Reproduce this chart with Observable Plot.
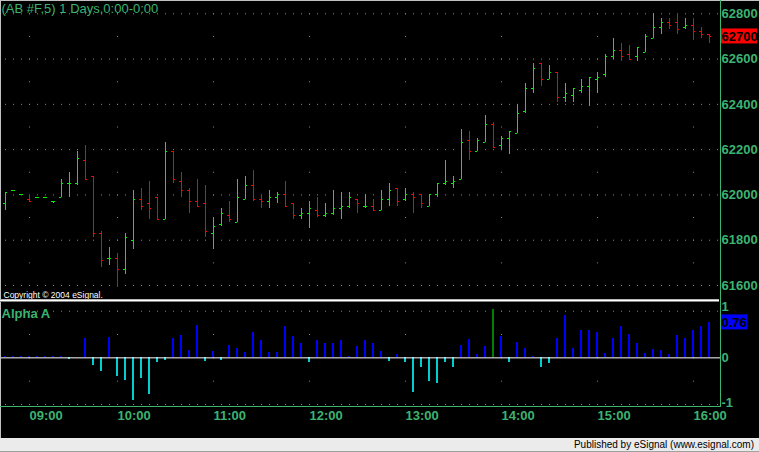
<!DOCTYPE html>
<html><head><meta charset="utf-8">
<script src="https://cdn.jsdelivr.net/npm/d3@7"></script>
<script src="https://cdn.jsdelivr.net/npm/@observablehq/plot@0.6"></script>
<style>
html,body{margin:0;padding:0;background:#000;}
#chart{position:relative;width:759px;height:452px;background:#000;overflow:hidden;font-family:"Liberation Sans",Arial,sans-serif;}
#chart svg{position:absolute;left:0;}
.ln{position:absolute;}
</style></head><body><div id="chart"></div>
<script>
// ---- data ----
const titleText = "(AB #F,5) 1 Days,0:00-0:00";
const copyrightText = "Copyright \u00a9 2004 eSignal.";
const studyName = "Alpha A";
const footerText = "Published by eSignal (www.esignal.com)";

const tickIndex = [3, 14, 26, 38, 50, 62, 74, 86];
const tickLabels = ["09:00", "10:00", "11:00", "12:00", "13:00", "14:00", "15:00", "16:00"];
const priceTicks = [61600, 61800, 62000, 62200, 62400, 62600, 62800];
const alphaTicks = [-1, 0, 1];

const barOpen = [61960,62020,62000,61980,61990,61990,61970,61990,62050,62050,62150,62080,61830,61720,61720,61670,61800,61980,61960,61990,61890,62190,62060,62020,61970,61960,61830,61870,61910,61880,61980,62040,61980,61970,61990,62000,61960,61910,61920,61930,61910,61920,61940,61950,61980,61950,61950,61930,61980,62030,61980,62000,62000,61950,62000,62050,62050,62070,62240,62190,62230,62310,62220,62250,62270,62370,62470,62580,62510,62540,62430,62440,62460,62480,62510,62530,62610,62640,62620,62610,62630,62690,62740,62760,62760,62740,62750,62720,62710];
const barHigh = [62010,62020,62000,62000,61990,61990,61970,62070,62100,62190,62220,62080,61840,61770,61740,61830,62020,62030,62060,61990,62230,62190,62100,62030,62070,62040,61900,61940,61970,62070,62080,62110,62000,62020,62010,62060,61960,61940,61970,61990,61960,62020,62010,62010,61980,62000,61980,62020,62050,62030,62030,62010,62000,62000,62050,62150,62080,62290,62280,62250,62350,62320,62260,62280,62400,62490,62580,62580,62570,62540,62490,62470,62510,62520,62540,62620,62690,62670,62660,62650,62710,62800,62780,62780,62800,62780,62780,62740,62710];
const barLow = [61930,62020,62000,61970,61990,61990,61960,61990,61990,62040,62070,61810,61680,61690,61590,61650,61760,61930,61890,61890,61890,62050,61990,61920,61950,61810,61760,61860,61880,61880,61980,61970,61940,61940,61960,61950,61890,61890,61850,61900,61900,61910,61890,61940,61920,61940,61930,61930,61950,61950,61970,61920,61940,61950,61990,62040,62030,62070,62150,62190,62230,62210,62200,62180,62270,62360,62450,62480,62510,62410,62410,62410,62450,62390,62450,62520,62600,62590,62600,62590,62630,62690,62710,62730,62710,62730,62680,62690,62670];
const barClose = [62010,62020,62000,61970,61990,61990,61970,62050,62050,62160,62070,61830,61710,61720,61670,61810,61980,61950,61940,61890,62190,62070,62020,61970,61950,61840,61860,61920,61890,61990,62040,61980,61970,61990,62000,61950,61910,61920,61940,61910,61920,61940,61950,61990,61960,61950,61930,61980,62020,61970,62000,61990,61960,62000,62050,62060,62060,62230,62190,62240,62310,62210,62250,62280,62360,62470,62560,62510,62540,62430,62450,62470,62480,62520,62520,62610,62640,62610,62600,62650,62700,62740,62760,62750,62730,62750,62720,62710,62700];
const alphaValues = [0.02,0.02,0.02,0.02,0.02,0.02,0.02,0.02,-0.03,0,0.41,-0.16,-0.29,0.43,-0.41,-0.48,-0.92,-0.44,-0.78,-0.10,-0.06,0.42,0.48,0.16,0.69,-0.07,0.13,-0.06,0.26,0.20,0.11,0.54,0.38,0.11,0.11,0.67,0.45,0.30,-0.11,0.37,0.30,0.30,0.38,0.03,0.24,0.37,0.30,0.13,-0.07,0.07,-0.09,-0.75,-0.20,-0.50,-0.56,-0.09,-0.20,0.26,0.39,0.07,0.24,1.03,0.45,-0.09,0.33,0.20,0.03,-0.20,-0.13,0.41,0.90,0.20,0.58,0.58,0.54,0.09,0.41,0.67,0.50,0.30,0.09,0.18,0.16,0.07,0.48,0.41,0.58,0.67,0.76];

// ---- build ----
const W = 759;
const GREEN = "#3cb371";
const GRID = "#8a8a8a";
const FONT = "'Liberation Sans', Arial, sans-serif";

const bars = barOpen.map((o, i) => ({i, open: o, high: barHigh[i], low: barLow[i], close: barClose[i]}));
const alpha = alphaValues.map((v, i) => ({i, v}));
const priceColor = d => d.close >= d.open ? "#00f000" : "#ff0000";
const alphaColor = d => d.v >= 1 ? "#008000" : d.v >= 0 ? "#0000ff" : "#00ced1";

const xScale = {type: "linear", domain: [0, bars.length - 1], range: [5, 709], axis: null};
const yPriceRange = [285, 13.3];
const yAlphaRange = [104, 10.7];
const per100 = (yPriceRange[0] - yPriceRange[1]) / ((priceTicks[priceTicks.length - 1] - priceTicks[0]) / 100);
const perHalf = (yAlphaRange[0] - yAlphaRange[1]) / 4;
const axisText = {frameAnchor: "right", textAnchor: "start", dx: 1, fill: GREEN, fontSize: 13, fontWeight: "bold"};

const priceChart = Plot.plot({
  width: W, height: 299,
  marginLeft: 1, marginRight: 39, marginTop: 0, marginBottom: 0,
  x: xScale,
  y: {domain: [priceTicks[0], priceTicks[priceTicks.length - 1]], range: yPriceRange, axis: null},
  style: {background: "transparent", fontFamily: FONT, overflow: "visible"},
  marks: [
    Plot.ruleY(priceTicks, {stroke: GRID, strokeDasharray: "1,7", strokeDashoffset: 4}),
    Plot.ruleX(tickIndex, {y1: priceTicks[priceTicks.length - 1], y2: priceTicks[0], stroke: GRID, strokeDasharray: `1,${per100 - 1}`}),
    Plot.ruleX(bars, {x: "i", y1: "low", y2: "high", stroke: priceColor, shapeRendering: "crispEdges"}),
    Plot.ruleY(bars, {x1: d => d.i - 0.25, x2: "i", y: "open", stroke: priceColor, shapeRendering: "crispEdges"}),
    Plot.ruleY(bars, {x1: "i", x2: d => d.i + 0.25, y: "close", stroke: priceColor, shapeRendering: "crispEdges"}),
    Plot.text(priceTicks, {y: d => d, text: d => String(d), ...axisText}),
    Plot.text([titleText], {frameAnchor: "top-left", lineAnchor: "top", dy: 3, fill: GREEN, fontSize: 13}),
    Plot.text([copyrightText], {frameAnchor: "bottom-left", lineAnchor: "bottom", dx: 2, dy: -2, fill: "white", fontSize: 8.5})
  ]
});

const alphaChart = Plot.plot({
  width: W, height: 138,
  marginLeft: 1, marginRight: 39, marginTop: 0, marginBottom: 32,
  x: xScale,
  y: {domain: [alphaTicks[0], alphaTicks[alphaTicks.length - 1]], range: yAlphaRange, axis: null},
  style: {background: "transparent", fontFamily: FONT, overflow: "visible"},
  marks: [
    Plot.ruleY([alphaTicks[0], alphaTicks[2]], {stroke: GRID, strokeDasharray: "1,7", strokeDashoffset: 4}),
    Plot.ruleX(tickIndex, {y1: alphaTicks[2], y2: alphaTicks[0], stroke: GRID, strokeDasharray: `1,${perHalf - 1}`}),
    Plot.ruleX(alpha, {x: "i", y1: 0, y2: "v", stroke: alphaColor, strokeWidth: 2, dx: -0.5, shapeRendering: "crispEdges"}),
    Plot.ruleY([0], {stroke: "white"}),
    Plot.text([alphaTicks[2]], {y: d => d, text: d => String(d), ...axisText, dy: -4}),
    Plot.text([alphaTicks[1]], {y: d => d, text: d => String(d), ...axisText}),
    Plot.text([alphaTicks[0]], {y: d => d, text: d => String(d), ...axisText, dy: -2}),
    Plot.text(tickIndex, {x: d => d, text: (d, i) => tickLabels[i], frameAnchor: "bottom", lineAnchor: "top", textAnchor: "start", dy: 4, fill: GREEN, fontSize: 13, fontWeight: "bold"}),
    Plot.text([studyName], {frameAnchor: "top-left", lineAnchor: "top", dy: 8, fill: GREEN, fontSize: 13, fontWeight: "bold"})
  ]
});

const root = document.getElementById("chart");
priceChart.style.top = "0px";
alphaChart.style.top = "300px";
root.appendChild(priceChart);
root.appendChild(alphaChart);

// last-value boxes positioned through the scales
function valueBox(svg, scaleName, value, label, bg, w) {
  const y = svg.scale(scaleName).apply(value);
  const g = d3.select(svg).append("g").attr("text-anchor", "start");
  g.append("rect").attr("x", 721).attr("y", y - 7.5).attr("width", w).attr("height", 15).attr("fill", bg);
  g.append("text").attr("x", 721.5).attr("y", y).attr("dy", "0.36em").attr("text-anchor", "start")
    .attr("font-size", 13).attr("font-weight", "bold").attr("fill", "#000").text(label);
}
const lastClose = barClose[barClose.length - 1];
const lastAlpha = alphaValues[alphaValues.length - 1];
valueBox(priceChart, "y", lastClose, String(lastClose), "#ff0000", 36);
valueBox(alphaChart, "y", lastAlpha, lastAlpha.toFixed(2), "#0000ff", 26);

function line(css) { const d = document.createElement("div"); d.className = "ln"; Object.assign(d.style, css); root.appendChild(d); return d; }
line({left: "0px", top: "0px", width: "759px", height: "1px", background: "#c0c0c0"});
line({left: "0px", top: "0px", width: "1px", height: "438px", background: "#c0c0c0"});
line({left: "0px", top: "299px", width: "719px", height: "1px", background: "#b8b8b8"});
line({left: "0px", top: "300px", width: "719px", height: "1px", background: "#ffffff"});
line({left: "0px", top: "301px", width: "719px", height: "1px", background: "#808080"});
line({left: "720px", top: "0px", width: "1px", height: "407px", background: GREEN});
line({left: "0px", top: "406px", width: "721px", height: "1px", background: GREEN});
const foot = line({left: "0px", top: "438px", width: "759px", height: "14px", background: "#ebebeb",
  font: "10px " + FONT, color: "#000", textAlign: "right", lineHeight: "13px", boxSizing: "border-box", paddingRight: "5px", borderBottom: "1px solid #a0a0a0"});
foot.textContent = footerText;
</script></body></html>
